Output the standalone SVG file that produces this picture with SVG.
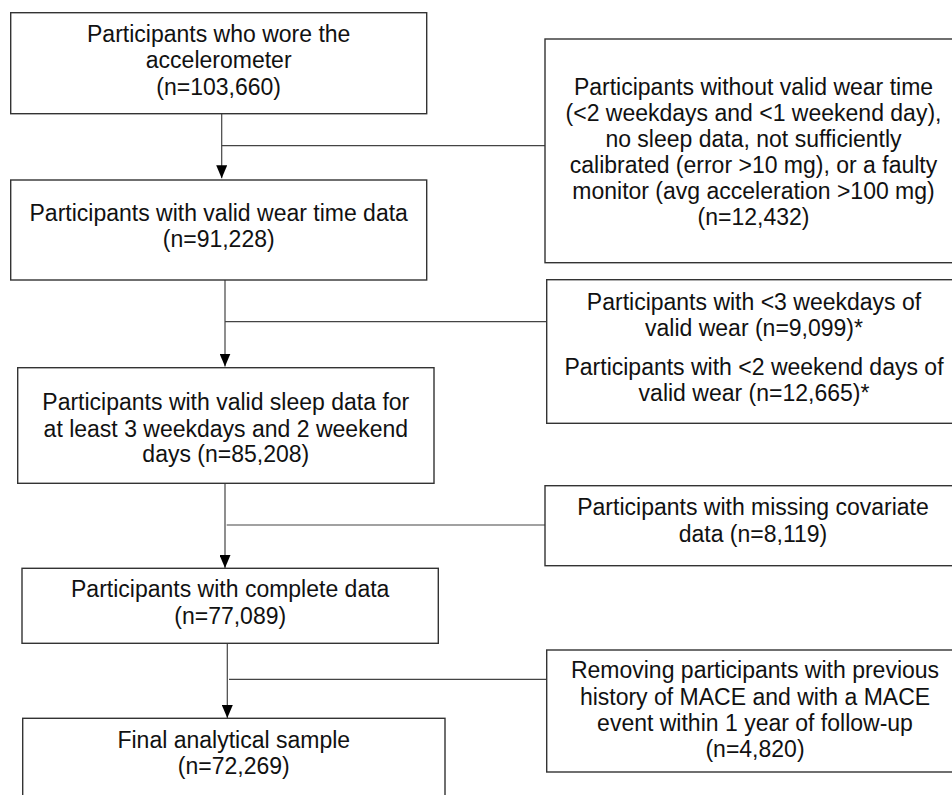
<svg xmlns="http://www.w3.org/2000/svg" width="952" height="795" viewBox="0 0 952 795">
<style>
.box{fill:#fff;stroke:#333;stroke-width:1.4}
.t{font-family:"Liberation Sans",Arial,sans-serif;font-size:23px;fill:#111;text-anchor:middle}
.c{stroke:#444;stroke-width:1.2;fill:none}
.a{marker-end:url(#ah)}
</style>
<defs>
<marker id="ah" markerWidth="13" markerHeight="11" refX="13" refY="5.5" orient="auto" markerUnits="userSpaceOnUse" viewBox="0 0 13 11">
<path d="M0,0 L13,5.5 L0,11 Z" fill="#000"/>
</marker>
</defs>
<rect width="952" height="795" fill="#fff"/>
<g id="connectors">
<line class="c a" x1="221.7" y1="114" x2="221.7" y2="178.3"/>
<line class="c" x1="221.7" y1="145.7" x2="545" y2="145.7"/>
<line class="c a" x1="225" y1="280" x2="225" y2="366.5"/>
<line class="c" x1="225" y1="321.7" x2="546" y2="321.7"/>
<line class="c a" x1="225" y1="483" x2="225" y2="568"/>
<line class="c" x1="226.7" y1="525" x2="545" y2="525"/>
<line class="c a" x1="227.3" y1="642" x2="227.3" y2="718"/>
<line class="c" x1="229" y1="679.3" x2="546.7" y2="679.3"/>
</g>
<g id="n1">
<rect class="box" x="10.7" y="12.7" width="416" height="101"/>
<text class="t" x="218.7" y="41.7">Participants who wore the</text>
<text class="t" x="218.7" y="68.3">accelerometer</text>
<text class="t" x="218.7" y="95">(n=103,660)</text>
</g>
<g id="n2">
<rect class="box" x="10.7" y="180" width="416" height="100"/>
<text class="t" x="218.7" y="220.7">Participants with valid wear time data</text>
<text class="t" x="218.7" y="247.3">(n=91,228)</text>
</g>
<g id="n3">
<rect class="box" x="17.7" y="367.7" width="416.3" height="115.6"/>
<text class="t" x="225.8" y="410">Participants with valid sleep data for</text>
<text class="t" x="225.8" y="436.5">at least 3 weekdays and 2 weekend</text>
<text class="t" x="225.8" y="462">days (n=85,208)</text>
</g>
<g id="n4">
<rect class="box" x="22" y="568.3" width="416.3" height="75"/>
<text class="t" x="230.2" y="597.3">Participants with complete data</text>
<text class="t" x="230.2" y="624">(n=77,089)</text>
</g>
<g id="n5">
<rect class="box" x="22.7" y="718.3" width="422.3" height="90"/>
<text class="t" x="233.8" y="747.7">Final analytical sample</text>
<text class="t" x="233.8" y="774">(n=72,269)</text>
</g>
<g id="r1">
<rect class="box" x="545" y="39" width="420" height="223.7"/>
<text class="t" x="753.5" y="95">Participants without valid wear time</text>
<text class="t" x="753.5" y="121">(&lt;2 weekdays and &lt;1 weekend day),</text>
<text class="t" x="753.5" y="147">no sleep data, not sufficiently</text>
<text class="t" x="753.5" y="173">calibrated (error &gt;10 mg), or a faulty</text>
<text class="t" x="753.5" y="199">monitor (avg acceleration &gt;100 mg)</text>
<text class="t" x="753.5" y="225">(n=12,432)</text>
</g>
<g id="r2">
<rect class="box" x="546.7" y="279.7" width="420" height="143.6"/>
<text class="t" x="754" y="310">Participants with &lt;3 weekdays of</text>
<text class="t" x="754" y="335.5">valid wear (n=9,099)*</text>
<text class="t" x="754" y="375">Participants with &lt;2 weekend days of</text>
<text class="t" x="754" y="400.5">valid wear (n=12,665)*</text>
</g>
<g id="r3">
<rect class="box" x="545" y="485.7" width="420" height="80"/>
<text class="t" x="753" y="515">Participants with missing covariate</text>
<text class="t" x="753" y="541.7">data (n=8,119)</text>
</g>
<g id="r4">
<rect class="box" x="546.7" y="650" width="420" height="122"/>
<text class="t" x="755" y="678.3">Removing participants with previous</text>
<text class="t" x="755" y="704.5">history of MACE and with a MACE</text>
<text class="t" x="755" y="731">event within 1 year of follow-up</text>
<text class="t" x="755" y="757">(n=4,820)</text>
</g>
</svg>
